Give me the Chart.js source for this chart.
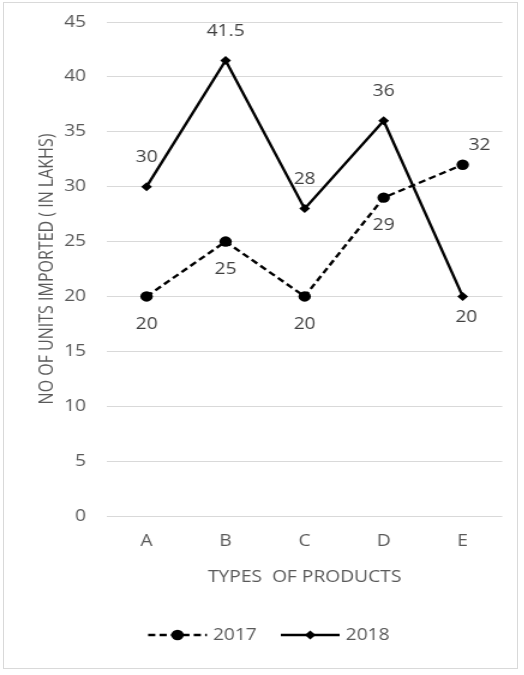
<!DOCTYPE html>
<html>
<head>
<meta charset="utf-8">
<script src="https://cdn.jsdelivr.net/npm/chart.js@4/dist/chart.umd.min.js"></script>
<style>
    html, body { margin: 0; padding: 0; background: #fff; overflow: hidden; }
    #frame { position: absolute; left: 3px; top: 2px; width: 513px; height: 665px; border: 1px solid #d9d9d9; }
    /* the reference picture is stretched sideways, so draw narrow and stretch */
    #wrap { position: absolute; left: 0; top: 0; width: 437px; height: 675px; transform: scaleX(1.2); transform-origin: 0 0; }
</style>
</head>
<body>
<div id="frame"></div>
<div id="wrap"><canvas id="importChart"></canvas></div>
<script>
// data
const products = ['A', 'B', 'C', 'D', 'E'];
const units2017 = [20, 25, 20, 29, 32];
const units2018 = [30, 41.5, 28, 36, 20];
// where each value label sits relative to its point
const labelPos2017 = ['below', 'below', 'below', 'below', 'aboveRight'];
const labelPos2018 = ['above', 'above', 'above', 'above', 'belowShort'];
const yTicks = { min: 0, max: 45, step: 5 };

const FONT = 'Open Sans';
const TEXT = '#595959';
const FSIZE = 16;

// value labels drawn next to each point
const valueLabels = {
    id: 'valueLabels',
    afterDatasetsDraw(chart) {
        const ctx = chart.ctx;
        ctx.save();
        ctx.font = FSIZE + 'px "' + FONT + '"';
        ctx.fillStyle = '#404040';
        ctx.textAlign = 'center';
        ctx.textBaseline = 'middle';
        chart.data.datasets.forEach((ds, di) => {
            const meta = chart.getDatasetMeta(di);
            meta.data.forEach((pt, i) => {
                let dx = 0, dy = 0;
                switch (ds.labelPos[i]) {
                    case 'above': dy = -29; break;
                    case 'below': dy = 28; break;
                    case 'belowShort': dx = 3; dy = 21; break;
                    case 'aboveRight': dx = 14; dy = -19; break;
                }
                ctx.fillText(String(ds.data[i]), pt.x + dx, pt.y + dy);
            });
        });
        ctx.restore();
    }
};

// legend with a line sample and marker, like the office chart
const lineLegend = {
    id: 'lineLegend',
    afterDraw(chart) {
        const ctx = chart.ctx;
        const y = 635;
        const sample = 49;
        ctx.save();
        ctx.font = FSIZE + 'px "' + FONT + '"';
        const items = chart.data.datasets.map(ds => ({ ds, w: sample + 5 + ctx.measureText(ds.label).width }));
        const gap = 20;
        const total = items.reduce((s, it) => s + it.w, 0) + gap * (items.length - 1);
        let x = 224 - total / 2;
        items.forEach(it => {
            const ds = it.ds;
            ctx.strokeStyle = ds.borderColor;
            ctx.lineWidth = ds.borderWidth;
            ctx.setLineDash(ds.borderDash || []);
            ctx.beginPath();
            ctx.moveTo(x, y);
            ctx.lineTo(x + sample, y);
            ctx.stroke();
            ctx.setLineDash([]);
            ctx.fillStyle = ds.pointBackgroundColor;
            const cx = x + sample / 2, r = ds.pointRadius;
            ctx.beginPath();
            if (ds.pointStyle === 'rectRot') {
                ctx.moveTo(cx, y - r); ctx.lineTo(cx + r, y); ctx.lineTo(cx, y + r); ctx.lineTo(cx - r, y);
                ctx.closePath();
            } else {
                ctx.arc(cx, y, r, 0, Math.PI * 2);
            }
            ctx.fill();
            ctx.fillStyle = TEXT;
            ctx.textAlign = 'left';
            ctx.textBaseline = 'middle';
            ctx.fillText(ds.label, x + sample + 5, y);
            x += it.w + gap;
        });
        ctx.restore();
    }
};

const ctx = document.getElementById('importChart').getContext('2d');
new Chart(ctx, {
    type: 'line',
    data: {
        labels: products,
        datasets: [{
            label: '2017',
            data: units2017,
            labelPos: labelPos2017,
            borderColor: '#000',
            borderWidth: 2.4,
            borderDash: [6, 3.5],
            pointStyle: 'circle',
            pointRadius: 5.2,
            pointBackgroundColor: '#000',
            pointBorderColor: '#000',
            pointBorderWidth: 0,
            tension: 0,
            fill: false
        }, {
            label: '2018',
            data: units2018,
            labelPos: labelPos2018,
            borderColor: '#000',
            borderWidth: 2.4,
            pointStyle: 'rectRot',
            pointRadius: 4.5,
            pointBackgroundColor: '#000',
            pointBorderColor: '#000',
            pointBorderWidth: 0,
            tension: 0,
            fill: false
        }]
    },
    options: {
        responsive: true,
        maintainAspectRatio: false,
        animation: false,
        layout: { padding: { left: 25.6, right: 18.5, top: 22, bottom: 84.4 } },
        plugins: {
            legend: { display: false },
            tooltip: { enabled: false }
        },
        scales: {
            x: {
                offset: true,
                grid: { display: false, drawTicks: false },
                border: { display: false },
                ticks: { color: TEXT, font: { family: FONT, size: FSIZE }, padding: 16 },
                title: { display: true, text: 'TYPES  OF PRODUCTS', color: TEXT, font: { family: FONT, size: FSIZE }, padding: { top: 4, bottom: 4 } },
                afterFit(scale) { scale.height = 74.6; }
            },
            y: {
                min: yTicks.min,
                max: yTicks.max,
                ticks: { stepSize: yTicks.step, color: TEXT, font: { family: FONT, size: FSIZE }, padding: 17.5 },
                grid: { color: '#d9d9d9', lineWidth: 1, drawTicks: false },
                border: { display: false },
                title: { display: true, text: 'NO OF UNITS IMPORTED ( IN LAKHS)', color: TEXT, font: { family: FONT, size: FSIZE }, padding: { top: 4, bottom: 4 } },
                afterFit(scale) {
                    scale.width = 63.6;
                    scale.paddingTop = 0;
                    scale.paddingBottom = 0;
                }
            }
        }
    },
    plugins: [valueLabels, lineLegend]
});
</script>
</body>
</html>
